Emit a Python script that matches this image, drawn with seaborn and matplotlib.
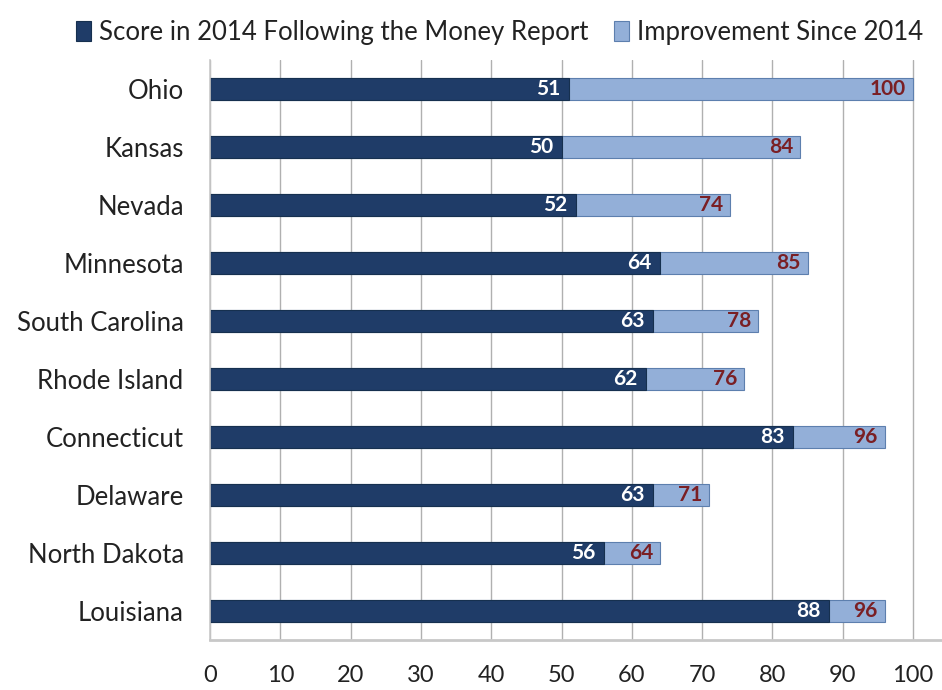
import pandas as pd
import numpy as np
import matplotlib
matplotlib.use("Agg")
import matplotlib.pyplot as plt
import seaborn as sns
from matplotlib.ticker import FixedLocator

############################ Data ##########################################
states = ["Ohio", "Kansas", "Nevada", "Minnesota", "South Carolina",
          "Rhode Island", "Connecticut", "Delaware", "North Dakota", "Louisiana"]
score_2014 = [51, 50, 52, 64, 63, 62, 83, 63, 56, 88]
score_now = [100, 84, 74, 85, 78, 76, 96, 71, 64, 96]
xticks = [0, 10, 20, 30, 40, 50, 60, 70, 80, 90, 100]

df = pd.DataFrame({"state": states, "score_2014": score_2014, "total": score_now})

dark = "#1f3c68"
light = "#93afd8"
label_red = "#7a1f24"

sns.set_style("white")
plt.rcParams["font.family"] = ["Lato", "DejaVu Sans"]

fig = plt.figure(figsize=(9.42, 6.9), dpi=100)
ax = fig.add_axes([0.223, 0.0725, 0.776, 0.8405])

# light part = full new score, dark part drawn on top
sns.barplot(data=df, y="state", x="total", orient="h", color=light,
            width=0.38, edgecolor="#5d7fae", linewidth=0.8, ax=ax,
            saturation=1, label="Improvement Since 2014")
sns.barplot(data=df, y="state", x="score_2014", orient="h", color=dark,
            width=0.38, edgecolor="#16304f", linewidth=0.8, ax=ax,
            saturation=1, label="Score in 2014 Following the Money Report")

light_bars = ax.containers[0]
dark_bars = ax.containers[1]
white_txt = ax.bar_label(dark_bars, labels=[str(v) for v in score_2014], padding=-6,
                         color="white", fontsize=15, fontweight="bold")
red_txt = ax.bar_label(light_bars, labels=[str(v) for v in score_now], padding=-5,
                       color=label_red, fontsize=15, fontweight="bold")
for t in white_txt + red_txt:
    t.set_ha("right")

ax.set_xlim(0, 104)
ax.set_ylim(len(states) - 0.5, -0.5)
ax.set_xticks(xticks)
ax.set_xticklabels([str(v) for v in xticks], fontsize=17, color="#222222")
ax.set_yticklabels(states, fontsize=18.5, color="#222222")
ax.set_xlabel("")
ax.set_ylabel("")
ax.grid(axis="x", color="#b0b0b0", linewidth=1)
ax.set_axisbelow(True)

# tick marks between categories on the y axis
ax.yaxis.set_minor_locator(FixedLocator(np.arange(-0.5, len(states), 1)))
ax.tick_params(axis="y", which="major", length=0, pad=19)
ax.tick_params(axis="y", which="minor", length=8, color="#b0b0b0", width=1.2)
ax.tick_params(axis="x", which="major", length=8, color="#b0b0b0", width=1.2, pad=10)

for side in ["top", "right"]:
    ax.spines[side].set_visible(False)
ax.spines["left"].set_color("#c8c8c8")
ax.spines["bottom"].set_color("#c8c8c8")
ax.spines["left"].set_linewidth(1.2)
ax.spines["bottom"].set_linewidth(2)

handles, labels = ax.get_legend_handles_labels()
if ax.get_legend() is not None:
    ax.get_legend().remove()
order = [1, 0]
fig.legend([handles[i] for i in order], [labels[i] for i in order],
           loc="upper center", bbox_to_anchor=(0.53, 1.005), ncol=2, frameon=False,
           fontsize=18.5, handlelength=0.6, handleheight=0.8, handletextpad=0.3,
           columnspacing=1.0, labelcolor="#222222")

fig.savefig("out.png", dpi=100)
